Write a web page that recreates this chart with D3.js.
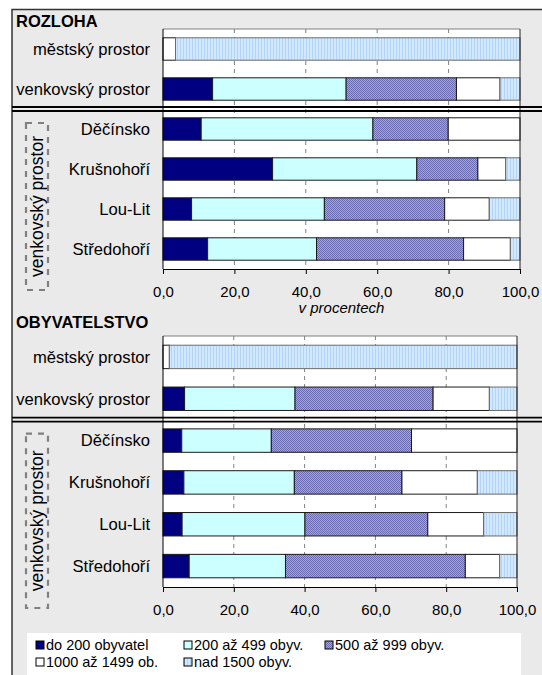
<!DOCTYPE html>
<html>
<head>
<meta charset="utf-8">
<script src="https://cdn.jsdelivr.net/npm/d3@7"></script>
<style>
  body { margin: 0; background: #fff; }
  text { font-family: "Liberation Sans", Arial, sans-serif; fill: #000; }
</style>
</head>
<body>
<div id="chart"></div>
<script>
// categories and series (values in %)
var categories = ["městský prostor", "venkovský prostor", "Děčínsko", "Krušnohoří", "Lou-Lit", "Středohoří"];
var seriesNames = ["do 200 obyvatel", "200 až 499 obyv.", "500 až 999 obyv.", "1000 až 1499 ob.", "nad 1500 obyv."];
var tickValues = [0, 20, 40, 60, 80, 100];
var tickLabels = ["0,0", "20,0", "40,0", "60,0", "80,0", "100,0"];

// ROZLOHA
var rozDo200   = [0, 13.9, 10.7, 30.7, 8.0, 12.5];
var roz200_499 = [0, 37.4, 48.1, 40.4, 37.2, 30.5];
var roz500_999 = [0, 30.9, 21.1, 17.1, 33.7, 41.2];
var roz1000    = [3.5, 12.2, 20.1, 7.8, 12.5, 13.1];
var rozNad1500 = [96.5, 5.6, 0, 4.0, 8.6, 2.7];

// OBYVATELSTVO
var obyDo200   = [0, 6.1, 5.3, 5.9, 5.4, 7.4];
var oby200_499 = [0, 31.2, 25.3, 31.2, 34.7, 27.2];
var oby500_999 = [0, 39.0, 39.6, 30.4, 34.7, 50.8];
var oby1000    = [1.8, 15.9, 29.8, 21.3, 15.8, 9.7];
var obyNad1500 = [98.2, 7.8, 0, 11.2, 9.4, 4.9];

var w = 542, h = 675;
var svg = d3.select("#chart").append("svg").attr("width", w).attr("height", h);

// patterns for the hatched fills
var defs = svg.append("defs");
var p1 = defs.append("pattern").attr("id", "purple").attr("width", 2).attr("height", 2)
    .attr("patternUnits", "userSpaceOnUse");
p1.append("rect").attr("width", 2).attr("height", 2).attr("fill", "#a4a4dc");
p1.append("rect").attr("x", 0).attr("y", 0).attr("width", 1).attr("height", 1).attr("fill", "#6a6ab0");
p1.append("rect").attr("x", 1).attr("y", 1).attr("width", 1).attr("height", 1).attr("fill", "#6a6ab0");

var p2 = defs.append("pattern").attr("id", "lblue").attr("width", 3).attr("height", 3)
    .attr("patternUnits", "userSpaceOnUse");
p2.append("rect").attr("width", 3).attr("height", 3).attr("fill", "#d2e8ff");
p2.append("rect").attr("x", 0).attr("width", 1).attr("height", 3).attr("fill", "#b2d4f8");

var fills = ["#000080", "#ccffff", "url(#purple)", "#ffffff", "url(#lblue)"];

// background frame
svg.append("rect").attr("x", 12).attr("y", 9.5).attr("width", w).attr("height", h)
    .attr("fill", "#eaeaea").attr("stroke", "#333").attr("stroke-width", 1.5);

function panel(title, series, top, bottom, right, titleY, showUnit) {
  var x = d3.scaleLinear().domain([0, 100]).range([163, right]);
  var y = d3.scaleBand().domain(categories).range([top, bottom]).paddingInner(0.44).paddingOuter(0.22);

  var g = svg.append("g");

  // plot area
  g.append("rect").attr("x", x(0)).attr("y", top).attr("width", x(100) - x(0)).attr("height", bottom - top)
      .attr("fill", "#fff");

  // dashed gridlines
  g.selectAll(".grid").data(tickValues.slice(1, 5)).enter().append("line")
      .attr("x1", function(d) { return x(d); }).attr("x2", function(d) { return x(d); })
      .attr("y1", top).attr("y2", bottom)
      .attr("stroke", "#808080").attr("stroke-dasharray", "4,4");

  // stacked bars
  var rows = categories.map(function(c, i) {
    var acc = 0;
    return series.map(function(s, k) {
      var seg = { cat: c, k: k, x0: acc, x1: acc + s[i] };
      acc += s[i];
      return seg;
    }).filter(function(d) { return d.x1 > d.x0; });
  });

  g.selectAll(".row").data(rows).enter().append("g")
    .selectAll("rect").data(function(d) { return d; }).enter().append("rect")
      .attr("x", function(d) { return x(d.x0); })
      .attr("width", function(d) { return x(d.x1) - x(d.x0); })
      .attr("y", function(d) { return y(d.cat); })
      .attr("height", y.bandwidth())
      .attr("fill", function(d) { return fills[d.k]; })
      .attr("stroke", function(d) { return d.k == 4 ? "#6b6b6b" : "#1a1a1a"; })
      .attr("stroke-width", 1);

  // frame of plot area
  g.append("line").attr("x1", x(0)).attr("x2", x(100)).attr("y1", top).attr("y2", top)
      .attr("stroke", "#808080");
  g.append("line").attr("x1", x(100)).attr("x2", x(100)).attr("y1", top).attr("y2", bottom)
      .attr("stroke", "#222");

  // x axis
  var ax = g.append("g").attr("transform", "translate(0," + bottom + ")")
      .call(d3.axisBottom(x).tickValues(tickValues)
        .tickFormat(function(d, i) { return tickLabels[i]; })
        .tickSize(5).tickPadding(12));
  ax.select(".domain").attr("stroke", "#000");
  ax.selectAll("text").style("font-size", "15px").style("font-family", '"Liberation Sans", Arial, sans-serif');

  // y axis line
  g.append("line").attr("x1", x(0)).attr("x2", x(0)).attr("y1", top).attr("y2", bottom)
      .attr("stroke", "#000");

  // category labels
  g.selectAll(".lab").data(categories).enter().append("text")
      .attr("x", 150).attr("y", function(d) { return y(d) + y.bandwidth() / 2; })
      .attr("dy", "0.35em").attr("text-anchor", "end")
      .style("font-size", "16.6px")
      .text(function(d) { return d; });

  // title
  g.append("text").attr("x", 16).attr("y", titleY)
      .style("font-size", "16.5px").style("font-weight", "bold").text(title);

  // double separator line
  var sep = y(categories[2]) - (y.step() - y.bandwidth()) / 2;
  [sep - 2, sep + 2].forEach(function(yy) {
    g.append("line").attr("x1", 12).attr("x2", w).attr("y1", yy).attr("y2", yy)
        .attr("stroke", "#000").attr("stroke-width", 1.8);
  });

  // dashed box with rotated label
  var bTop = sep + 14, bBot = bottom + 21;
  g.append("rect").attr("x", 26).attr("y", bTop).attr("width", 22).attr("height", bBot - bTop)
      .attr("fill", "none").attr("stroke", "#808080").attr("stroke-width", 2.2)
      .attr("stroke-dasharray", "6,6");
  var cy = (bTop + bBot) / 2;
  g.append("text").attr("transform", "translate(37," + cy + ") rotate(-90)")
      .attr("text-anchor", "middle").attr("dy", "0.35em")
      .style("font-size", "17.5px").text("venkovský prostor");

  if (showUnit) {
    g.append("text").attr("x", (x(0) + x(100)) / 2).attr("y", bottom + 44)
        .attr("text-anchor", "middle").style("font-size", "15px").style("font-style", "italic")
        .text("v procentech");
  }
}

panel("ROZLOHA", [rozDo200, roz200_499, roz500_999, roz1000, rozNad1500], 29, 269, 520, 27, true);
panel("OBYVATELSTVO", [obyDo200, oby200_499, oby500_999, oby1000, obyNad1500], 336, 587, 517, 328, false);

// legend
var lg = svg.append("g");
lg.append("rect").attr("x", 27).attr("y", 633).attr("width", 494).attr("height", 60).attr("fill", "#fff");
var legX = [36, 184, 325, 36, 184];
var legY = [645, 645, 645, 662, 662];
var items = lg.selectAll(".li").data(seriesNames).enter().append("g")
    .attr("transform", function(d, i) { return "translate(" + legX[i] + "," + legY[i] + ")"; });
items.append("rect").attr("x", 0).attr("y", -4).attr("width", 8).attr("height", 8)
    .attr("fill", function(d, i) { return fills[i]; }).attr("stroke", "#000").attr("stroke-width", 1);
items.append("text").attr("x", 10).attr("dy", "0.35em").style("font-size", "14.5px")
    .text(function(d) { return d; });
</script>
</body>
</html>
